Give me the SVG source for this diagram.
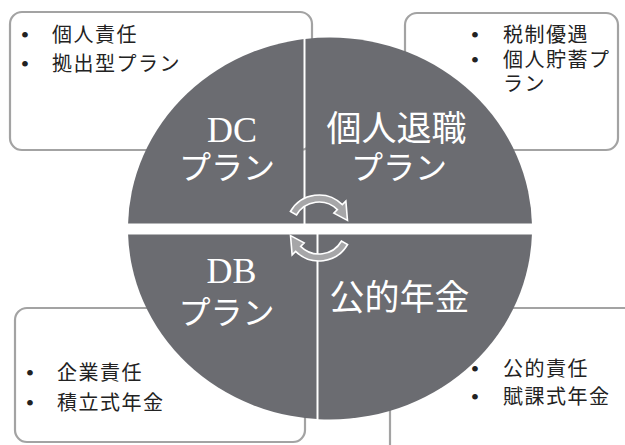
<svg xmlns="http://www.w3.org/2000/svg" width="625" height="445" viewBox="0 0 625 445">
<defs>
<style>
.box{fill:#ffffff;stroke:#a3a3a3;stroke-width:2.2}
.q{fill:#6b6c71}
.bt{font-family:"Liberation Serif","Noto Sans CJK JP",serif;font-size:20px;fill:#222222;letter-spacing:1.5px}
.bul{font-family:"Liberation Serif","Noto Sans CJK JP",serif;font-size:24px;fill:#222222;text-anchor:middle}
.lat{font-family:"Liberation Serif",serif;font-size:36px;fill:#ffffff;text-anchor:middle}
.jp{font-family:"Liberation Serif","Noto Sans CJK JP",serif;fill:#ffffff;text-anchor:middle}
.arr{fill:#a6a6a8;stroke:#ffffff;stroke-width:1.6;stroke-linejoin:miter}
</style>
<clipPath id="cTL"><rect x="0" y="0" width="303.5" height="223.5"/></clipPath>
<clipPath id="cTR"><rect x="305.5" y="0" width="330" height="223.5"/></clipPath>
<clipPath id="cBL"><rect x="0" y="234.5" width="316.5" height="220"/></clipPath>
<clipPath id="cBR"><rect x="318.5" y="234.5" width="330" height="220"/></clipPath>
</defs>
<rect width="625" height="445" fill="#ffffff"/>

<g id="box-tl">
<rect class="box" x="10" y="12" width="302" height="138" rx="12"/>
<text class="bul" x="25" y="43">•</text><text class="bt" x="52" y="42">個人責任</text>
<text class="bul" x="25" y="72">•</text><text class="bt" x="52" y="71">拠出型プラン</text>
</g>
<g id="box-tr">
<rect class="box" x="405" y="13" width="213" height="137" rx="12"/>
<text class="bul" x="475" y="42.5">•</text><text class="bt" x="503" y="41.5">税制優遇</text>
<text class="bul" x="475" y="67.5">•</text><text class="bt" x="503" y="66.5">個人貯蓄プ</text>
<text class="bt" x="503" y="91">ラン</text>
</g>
<g id="box-bl">
<rect class="box" x="15" y="308" width="290" height="134" rx="12"/>
<text class="bul" x="30" y="381">•</text><text class="bt" x="57" y="380">企業責任</text>
<text class="bul" x="30" y="410.5">•</text><text class="bt" x="57" y="409.5">積立式年金</text>
</g>
<g id="box-br">
<rect class="box" x="390" y="308" width="260" height="160" rx="12"/>
<text class="bul" x="475" y="377">•</text><text class="bt" x="503" y="376">公的責任</text>
<text class="bul" x="475" y="404.5">•</text><text class="bt" x="503" y="403.5">賦課式年金</text>
</g>

<g id="quad-dc">
<ellipse class="q" cx="330" cy="228.5" rx="202" ry="191" clip-path="url(#cTL)"/>
<text class="lat" x="232" y="142">DC</text>
<text class="jp" x="227" y="179" font-size="32">プラン</text>
</g>
<g id="quad-ira">
<ellipse class="q" cx="330" cy="228.5" rx="202" ry="191" clip-path="url(#cTR)"/>
<text class="jp" x="396.5" y="141" font-size="35">個人退職</text>
<text class="jp" x="399" y="179" font-size="32">プラン</text>
</g>
<g id="quad-db">
<ellipse class="q" cx="330" cy="228.5" rx="202" ry="191" clip-path="url(#cBL)"/>
<text class="lat" x="231.5" y="283">DB</text>
<text class="jp" x="226.5" y="323.5" font-size="32">プラン</text>
</g>
<g id="quad-public">
<ellipse class="q" cx="330" cy="228.5" rx="202" ry="191" clip-path="url(#cBR)"/>
<text class="jp" x="399.5" y="309.5" font-size="35">公的年金</text>
</g>

<g id="connectors">
<path class="arr" d="M290.42,211.5 A33,33 0 0 1 342.33,204.67 L345.87,201.13 L347.49,220.37 L333.85,213.15 L337.38,209.62 A26,26 0 0 0 296.48,215 Z"/>
<path class="arr" d="M347.58,244.5 A33,33 0 0 1 295.67,251.33 L292.13,254.87 L290.51,235.63 L304.15,242.85 L300.62,246.38 A26,26 0 0 0 341.52,241 Z"/>
</g>
</svg>
